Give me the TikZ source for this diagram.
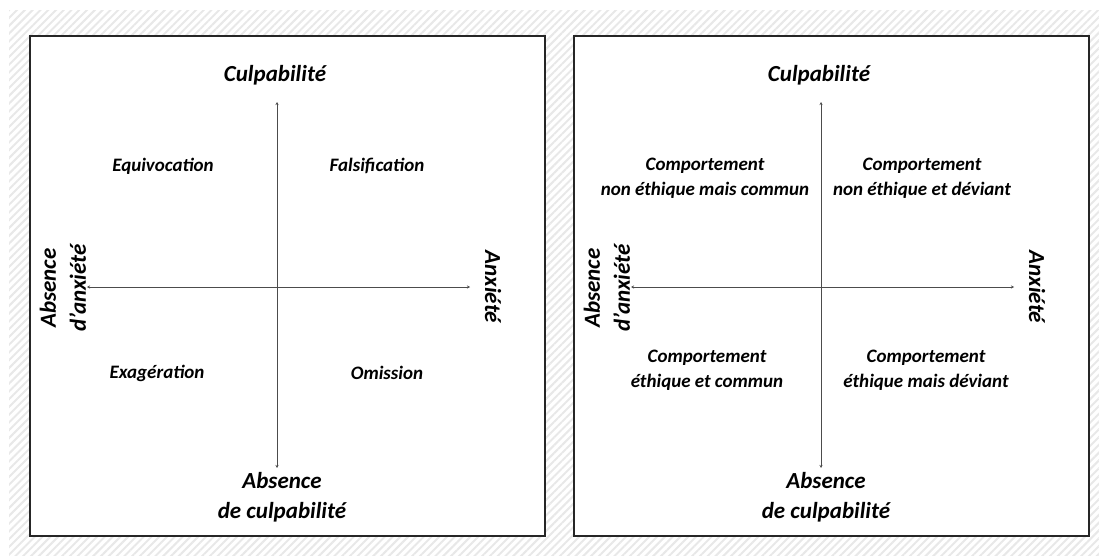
\documentclass[tikz,border=0pt]{standalone}
\usepackage{fontspec}
\setmainfont{Carlito}
\usetikzlibrary{patterns.meta,arrows.meta}
\tikzset{
  frame/.style={draw=black!85,line width=1.2pt,fill=white},
  axis/.style={draw=black!70,line width=1pt,{Stealth[length=3pt,width=3pt]}-{Stealth[length=3pt,width=3pt]}},
  big/.style={font=\fontsize{23}{30}\selectfont\bfseries\itshape,align=center,inner sep=0pt},
  quad/.style={font=\fontsize{19}{25}\selectfont\bfseries\itshape,align=center,inner sep=0pt}
}
\begin{document}
\begin{tikzpicture}[x=1pt,y=-1pt]
\useasboundingbox (0,0) rectangle (1099,556);
\fill[pattern={Lines[angle=45,distance=5.5pt,line width=2pt]},pattern color=black!9] (9,11) rectangle (1099,556);
\foreach \dx/\p in {0/a,544/b}{
  \begin{scope}[xshift=\dx pt]
    \draw[frame] (30,36) rectangle (545,536);
    \coordinate (\p top) at (277,102);
    \coordinate (\p bot) at (277,468);
    \coordinate (\p lft) at (87,287);
    \coordinate (\p rgt) at (470,287);
    \draw[axis] (\p top) -- (\p bot);
    \draw[axis] (\p lft) -- (\p rgt);
    \node[big] (\p cul) at (275,75) {Culpabilité};
    \node[big] (\p abc) at (282,497) {Absence\\de culpabilité};
    \node[big,rotate=90] (\p aba) at (63,288) {Absence\\d’anxiété};
    \node[big,rotate=-90] (\p anx) at (493,287) {Anxiété};
  \end{scope}
}
\node[quad] (equ) at (163,166) {Equivocation};
\node[quad] (fal) at (377,166) {Falsification};
\node[quad] (exa) at (157,373) {Exagération};
\node[quad] (omi) at (387,373) {Omission};
\node[quad] (q1) at (705,178) {Comportement\\non éthique mais commun};
\node[quad] (q2) at (922,178) {Comportement\\non éthique et déviant};
\node[quad] (q3) at (707,370) {Comportement\\éthique et commun};
\node[quad] (q4) at (926,370) {Comportement\\éthique mais déviant};
\end{tikzpicture}
\end{document}
